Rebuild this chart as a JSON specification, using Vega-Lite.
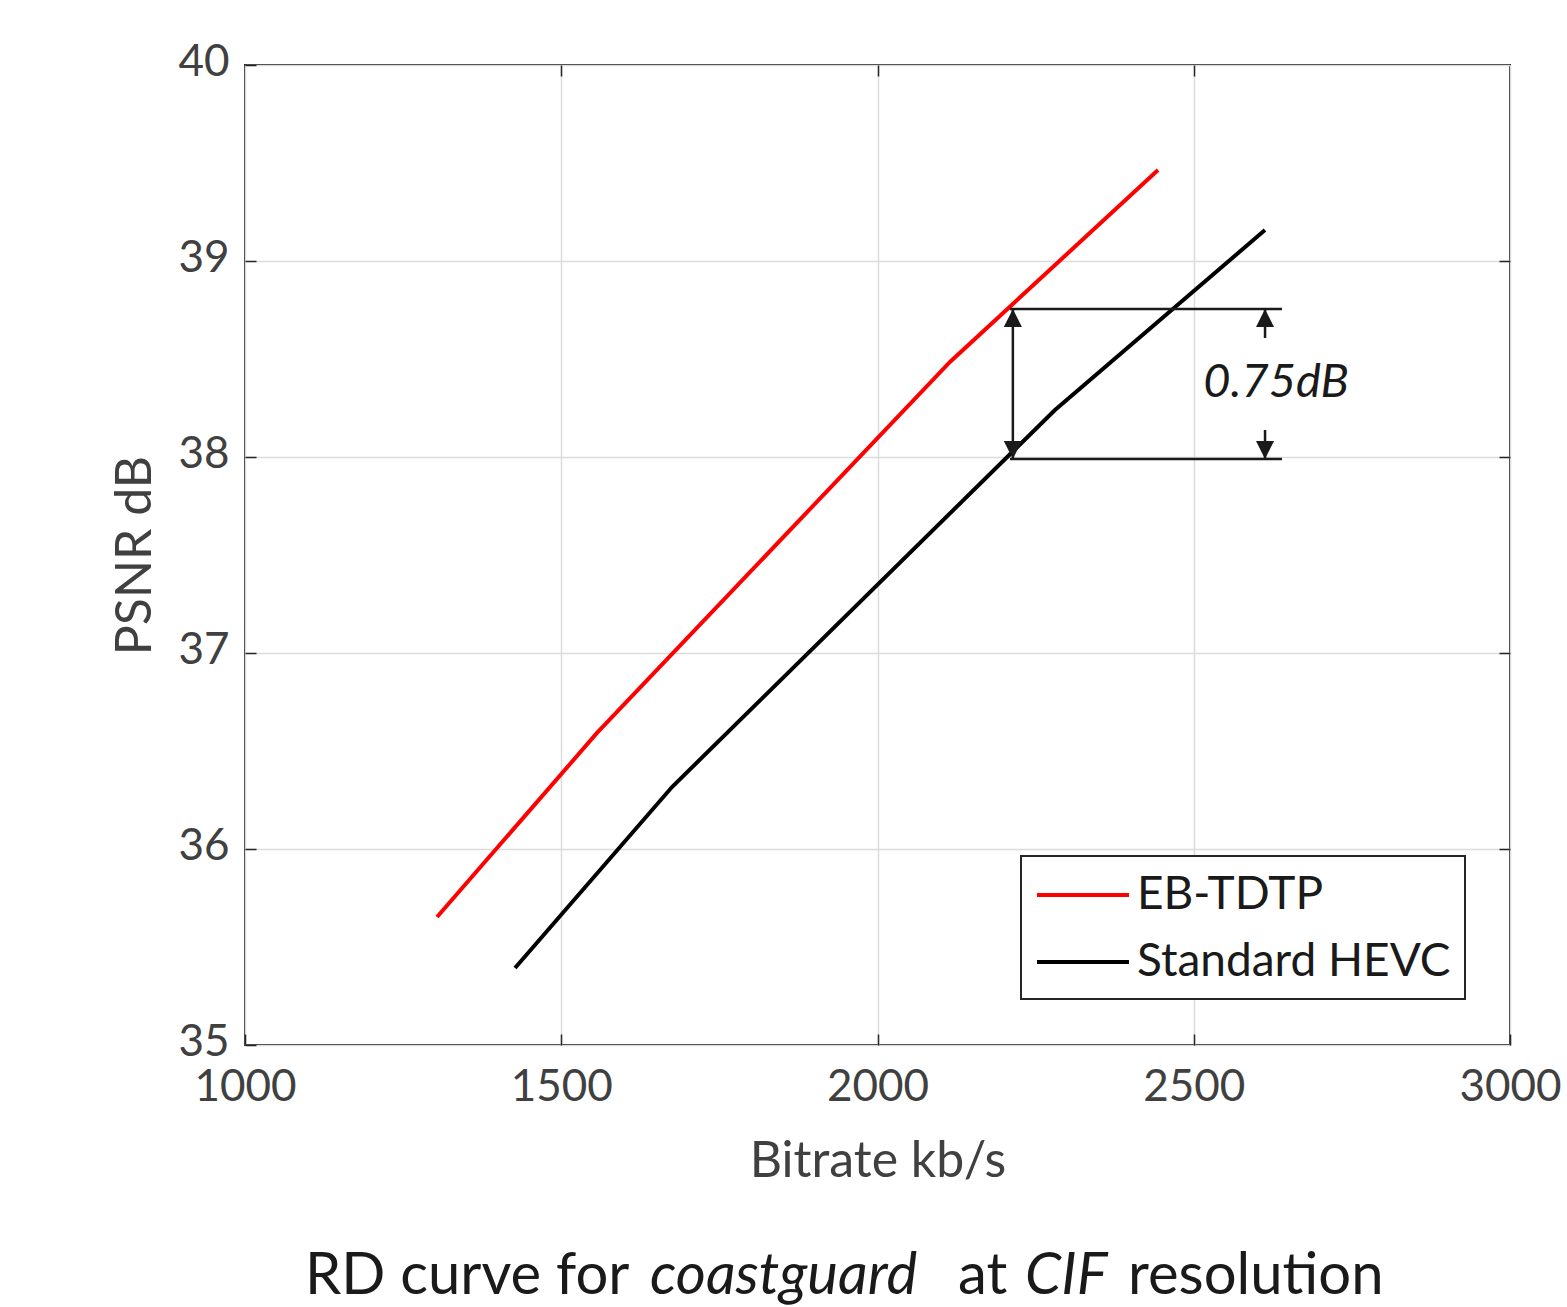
{
  "$schema": "https://vega.github.io/schema/vega-lite/v6.json",
  "width": 1265,
  "height": 980,
  "autosize": {"type": "none"},
  "padding": {"left": 245, "top": 65, "right": 57, "bottom": 262},
  "background": "white",
  "config": {
    "font": "Lato",
    "view": {"stroke": "#262626", "strokeWidth": 2},
    "axis": {
      "grid": true, "gridColor": "#dcdcdc", "gridWidth": 1.5, "domain": false,
      "tickColor": "#262626", "tickSize": -11, "tickWidth": 1.5,
      "labelFontSize": 44, "labelColor": "#404040", "labelFont": "Lato", "labelFlush": false,
      "titleFontSize": 50, "titleColor": "#404040", "titleFontWeight": "normal", "titleFont": "Lato"
    }
  },
  "resolve": {"axis": {"x": "independent", "y": "independent"}},
  "datasets": {
    "curves": [
      {"series": "EB-TDTP", "bitrate": 1303.6, "psnr": 35.653},
      {"series": "EB-TDTP", "bitrate": 1556.5, "psnr": 36.592},
      {"series": "EB-TDTP", "bitrate": 2114.6, "psnr": 38.485},
      {"series": "EB-TDTP", "bitrate": 2443.5, "psnr": 39.464},
      {"series": "Standard HEVC", "bitrate": 1426.9, "psnr": 35.393},
      {"series": "Standard HEVC", "bitrate": 1675.1, "psnr": 36.316},
      {"series": "Standard HEVC", "bitrate": 2280.6, "psnr": 38.24},
      {"series": "Standard HEVC", "bitrate": 2612.6, "psnr": 39.158}
    ],
    "segments": [
      {"xs": 2209.5, "xe": 2639.5, "ys": 38.755, "ye": 38.755},
      {"xs": 2209.5, "xe": 2639.5, "ys": 37.99, "ye": 37.99},
      {"xs": 2214, "xe": 2214, "ys": 37.99, "ye": 38.755},
      {"xs": 2612.7, "xe": 2612.7, "ys": 37.99, "ye": 38.138},
      {"xs": 2612.7, "xe": 2612.7, "ys": 38.607, "ye": 38.755}
    ],
    "heads": [
      {"hx": 2214, "hy": 38.755, "dir": "up"},
      {"hx": 2214, "hy": 37.99, "dir": "down"},
      {"hx": 2612.7, "hy": 38.755, "dir": "up"},
      {"hx": 2612.7, "hy": 37.99, "dir": "down"}
    ],
    "caption": [
      {"piece": "RD curve for", "pos": 1094.9, "style": "normal"},
      {"piece": "coastguard", "pos": 1640.3, "style": "italic"},
      {"piece": "at", "pos": 2127.3, "style": "normal"},
      {"piece": "CIF", "pos": 2233.2, "style": "italic"},
      {"piece": "resolution", "pos": 2396.0, "style": "normal"}
    ]
  },
  "layer": [
    {
      "data": {"name": "curves"},
      "mark": {"type": "line", "strokeWidth": 4, "clip": true},
      "encoding": {
        "x": {
          "field": "bitrate", "type": "quantitative",
          "scale": {"domain": [1000, 3000], "nice": false, "zero": false},
          "axis": {"values": [1000, 1500, 2000, 2500, 3000], "format": "d", "title": "Bitrate kb/s", "labelPadding": 31, "titlePadding": 27}
        },
        "y": {
          "field": "psnr", "type": "quantitative",
          "scale": {"domain": [35, 40], "nice": false, "zero": false},
          "axis": {"values": [35, 36, 37, 38, 39, 40], "format": "d", "title": "PSNR dB", "labelPadding": 27, "titlePadding": 17, "labelOffset": -3}
        },
        "color": {
          "field": "series", "type": "nominal",
          "scale": {"domain": ["EB-TDTP", "Standard HEVC"], "range": ["#ff0000", "#000000"]},
          "legend": {
            "title": null, "orient": "none", "legendX": 776, "legendY": 791,
            "strokeColor": "#262626", "fillColor": "white",
            "padding": 14, "symbolType": "M-1,0L3,0", "symbolSize": 2116, "symbolStrokeWidth": 4,
            "labelFontSize": 46, "labelColor": "#1a1a1a", "labelFont": "Lato", "labelLimit": 0,
            "labelOffset": 52, "rowPadding": 19,
            "encode": {"legend": {"update": {"strokeWidth": {"value": 2}}}}
          }
        }
      }
    },
    {
      "data": {"name": "segments"},
      "mark": {"type": "rule", "color": "#1a1a1a", "strokeWidth": 2.5},
      "encoding": {
        "x": {"field": "xs", "type": "quantitative",
          "axis": {"orient": "top", "values": [1500, 2000, 2500], "labels": false, "title": null, "grid": false}},
        "x2": {"field": "xe"},
        "y": {"field": "ys", "type": "quantitative",
          "axis": {"orient": "right", "values": [36, 37, 38, 39], "labels": false, "title": null, "grid": false}},
        "y2": {"field": "ye"}
      }
    },
    {
      "data": {"name": "heads"},
      "mark": {"type": "point", "filled": true, "color": "#1a1a1a", "size": 1300, "opacity": 1, "strokeWidth": 0},
      "encoding": {
        "x": {"field": "hx", "type": "quantitative", "axis": null},
        "y": {"field": "hy", "type": "quantitative", "axis": null},
        "shape": {
          "field": "dir", "type": "nominal",
          "scale": {"domain": ["up", "down"], "range": ["M0,0L-0.5,1L0.5,1Z", "M0,0L-0.5,-1L0.5,-1Z"]},
          "legend": null
        }
      }
    },
    {
      "data": {"values": [{"label": "0.75dB"}]},
      "mark": {"type": "text", "fontStyle": "italic", "fontSize": 47, "color": "#1a1a1a", "align": "center", "baseline": "middle"},
      "encoding": {
        "x": {"datum": 2630, "type": "quantitative", "axis": null},
        "y": {"datum": 38.378, "type": "quantitative", "axis": null},
        "text": {"field": "label"}
      }
    },
    {
      "data": {"name": "caption"},
      "transform": [{"filter": "datum.style == 'normal'"}],
      "mark": {"type": "text", "fontSize": 58, "color": "#1a1a1a", "align": "left", "baseline": "middle"},
      "encoding": {
        "x": {"field": "pos", "type": "quantitative", "axis": null},
        "y": {"datum": 33.815, "type": "quantitative", "axis": null},
        "text": {"field": "piece"}
      }
    },
    {
      "data": {"name": "caption"},
      "transform": [{"filter": "datum.style == 'italic'"}],
      "mark": {"type": "text", "fontSize": 58, "fontStyle": "italic", "color": "#1a1a1a", "align": "left", "baseline": "middle"},
      "encoding": {
        "x": {"field": "pos", "type": "quantitative", "axis": null},
        "y": {"datum": 33.815, "type": "quantitative", "axis": null},
        "text": {"field": "piece"}
      }
    }
  ]
}
